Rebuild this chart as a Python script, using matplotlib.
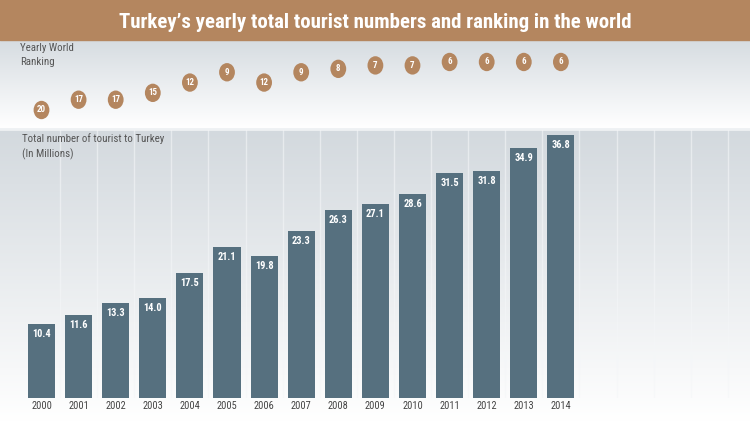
import numpy as np, matplotlib
matplotlib.use("Agg")
import matplotlib.pyplot as plt
from matplotlib.path import Path
from matplotlib.transforms import Affine2D

years = [2000, 2001, 2002, 2003, 2004, 2005, 2006, 2007, 2008, 2009, 2010, 2011, 2012, 2013, 2014]
tourists = [10.4, 11.6, 13.3, 14.0, 17.5, 21.1, 19.8, 23.3, 26.3, 27.1, 28.6, 31.5, 31.8, 34.9, 36.8]
ranking = [20, 17, 17, 15, 12, 9, 12, 9, 8, 7, 7, 6, 6, 6, 6]

BROWN, BAR, GREY = "#b4865f", "#56707f", "#555555"
NARROW = ["Roboto Condensed", "Archivo Narrow", "DejaVu Sans"]
W, H = 750, 422

fig = plt.figure(figsize=(7.5, 4.22), dpi=100)

def px_axes(x0, y0, x1, y1, **kw):
    # axes placed by pixel box (top-left origin)
    return fig.add_axes([x0 / W, 1 - y1 / H, (x1 - x0) / W, (y1 - y0) / H], **kw)

# background gradients
bg = px_axes(0, 0, W, H)
bg.axis("off")
def grad(y0, y1, top, bot):
    c0, c1 = np.array(matplotlib.colors.to_rgb(top)), np.array(matplotlib.colors.to_rgb(bot))
    t = np.linspace(0, 1, 200)[:, None]
    img = (c0 * (1 - t) + c1 * t)[:, None, :]
    bg.imshow(img, extent=(0, W, y1, y0), aspect="auto", zorder=0)
grad(40, 128, "#d6dce1", "#ffffff")
grad(130, H, "#d3d9de", "#ffffff")
bg.fill_between([0, W], 0, 40, color=BROWN, zorder=1)
bg.plot([0, W], [129, 129], color="#eef1f3", lw=2, zorder=1)
bg.set_xlim(0, W); bg.set_ylim(H, 0)

# title
fig.text(0.5, 1 - 22 / H, "Turkey\u2019s yearly total tourist numbers and ranking in the world",
         ha="center", va="center", color="white", fontsize=15, fontweight="bold", family=NARROW)

# bar axes
step = 37.1
xl0, xl1 = -41.5 / step, (W - 41.5) / step
ax = px_axes(0, 130, W, 398)
ax.patch.set_alpha(0)
ax.set_xlim(xl0, xl1); ax.set_ylim(0, 268 / 7.15)
ax.axis("off")
x = np.arange(len(years))
for g in np.arange(0.5, 19.5, 1):
    ax.axvline(g, color="#f4f6f8", lw=1.0, alpha=0.6, zorder=1)
ax.bar(x, tourists, width=0.73, color=BAR, zorder=2)
for xi, v, yr in zip(x, tourists, years):
    ax.text(xi, v - 0.7, f"{v:.1f}", ha="center", va="top", color="white",
            fontsize=7.5, fontweight="bold", family=NARROW, zorder=3)
    ax.text(xi, -0.45, str(yr), ha="center", va="top", color="#444444",
            fontsize=7.5, family=NARROW, clip_on=False)

# ranking axes
rk = px_axes(0, 40, W, 128)
rk.patch.set_alpha(0)
rk.set_xlim(xl0, xl1)
rk.set_ylim(20 + 18 / 3.43, 20 - 70 / 3.43)
rk.axis("off")
oval = Path.unit_circle().transformed(Affine2D().scale(0.86, 1.0))
rk.scatter(x, ranking, s=175, marker=oval, color=BROWN, zorder=2, edgecolors="none")
for xi, r in zip(x, ranking):
    rk.text(xi, r, str(r), ha="center", va="center", color="white",
            fontsize=6.5, fontweight="bold", family=NARROW, zorder=3)

fig.text(20 / W, 1 - 43 / H, "Yearly World\nRanking", ha="left", va="top",
         color=GREY, fontsize=7.8, family=NARROW, linespacing=1.5)
fig.text(22 / W, 1 - 133 / H, "Total number of tourist to Turkey\n(In Millions)", ha="left", va="top",
         color=GREY, fontsize=7.8, family=NARROW, linespacing=1.5)

fig.savefig("out.png", dpi=100)
